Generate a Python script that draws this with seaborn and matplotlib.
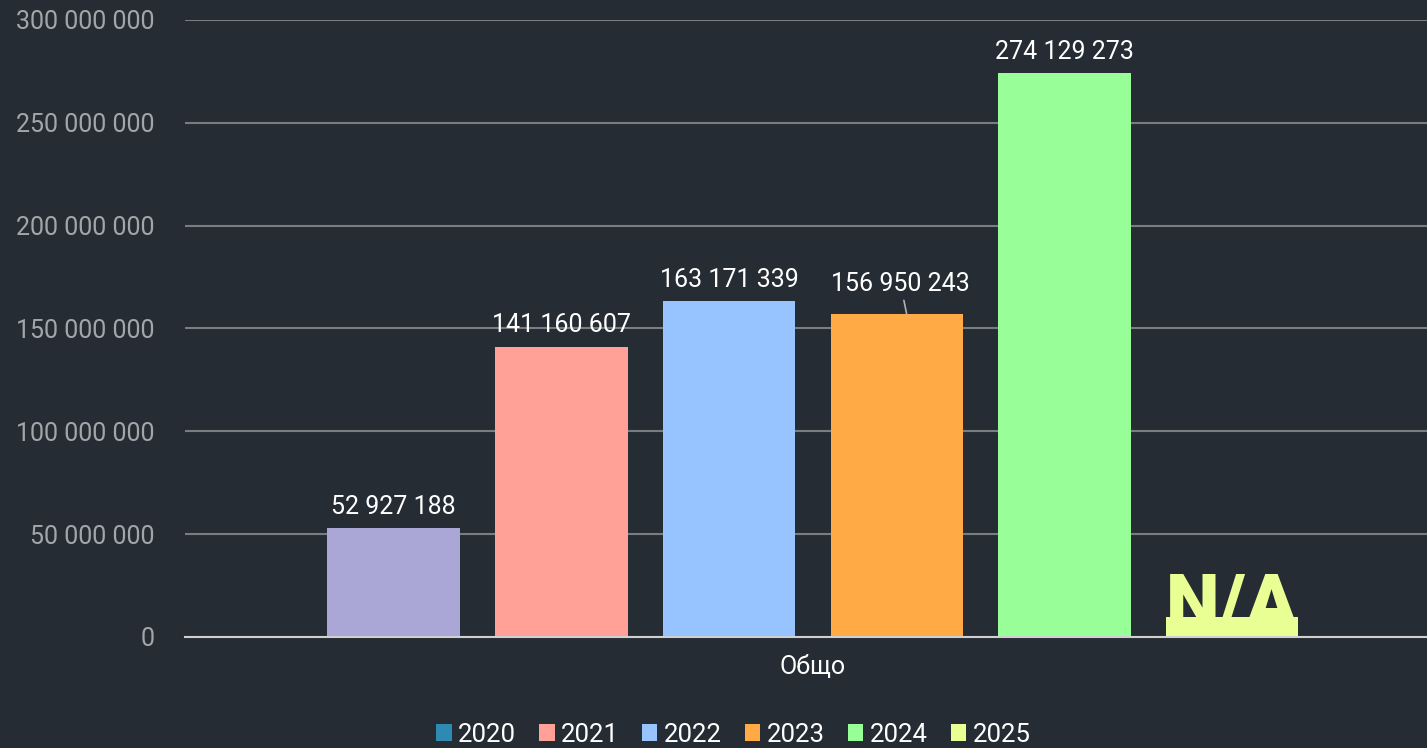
import matplotlib
matplotlib.use("Agg")
import matplotlib.pyplot as plt
import seaborn as sns
import pandas as pd
from matplotlib.patches import Patch

# ===================== DATA =====================
category = ["Общо"]
years    = ["2020", "2021", "2022", "2023", "2024", "2025"]
values   = [52927188, 141160607, 163171339, 156950243, 274129273, None]
colors   = ["#2e8ab3", "#ffa197", "#97c3ff", "#ffaa44", "#98ff98", "#e9ff94"]
bar_2020 = "#aaa6d6"          # the 2020 bar itself is drawn in purple
na_stub  = 9_700_000          # height of the "N/A" placeholder block

BG   = "#262c33"
GRID = "#7a7d80"

df = pd.DataFrame({
    "cat":   category * len(years),
    "year":  years,
    "value": [v if v is not None else na_stub for v in values],
})

sns.set_theme(style="dark")
plt.rcParams["font.family"] = ["Roboto", "DejaVu Sans"]

fig = plt.figure(figsize=(14.27, 7.48), dpi=100, facecolor=BG)
ax = fig.add_axes([0.1296, 0.1484, 0.8704, 0.8249])
ax.set_facecolor(BG)

sns.barplot(data=df, x="cat", y="value", hue="year", palette=colors,
            width=0.81, gap=0.21, saturation=1, legend=False,
            linewidth=0, edgecolor="none", ax=ax)

bars = [p for p in ax.patches]
bars[0].set_facecolor(bar_2020)

ax.set_ylim(0, 300_000_000)
ax.set_xlim(-0.5056, 0.4944)
ax.set_yticks(range(0, 300_000_001, 50_000_000))
ax.set_yticklabels([f"{v:,}".replace(",", " ") for v in range(0, 300_000_001, 50_000_000)])
ax.tick_params(axis="y", colors="#a3a6a9", labelsize=18, length=0, pad=22)
ax.tick_params(axis="x", colors="white", labelsize=18, length=0, pad=13)
ax.set_xlabel(""); ax.set_ylabel("")
ax.yaxis.grid(True, color=GRID, linewidth=1.5)
ax.set_axisbelow(True)
for s in ["top", "right", "left"]:
    ax.spines[s].set_visible(False)
ax.spines["bottom"].set_color("#cfd0d2")
ax.spines["bottom"].set_linewidth(1.5)

# value labels
for bar, v in zip(bars, values):
    cx = bar.get_x() + bar.get_width() / 2
    if v is None:
        ax.text(cx, 4_500_000, "N/A", ha="center", va="baseline", fontsize=55,
                fontweight="black", color=colors[-1], zorder=1)
        continue
    lbl = f"{v:,}".replace(",", " ")
    if lbl.startswith("156"):
        ax.annotate(lbl, xy=(cx + 0.008, v), xytext=(cx + 0.003, v + 9_000_000),
                    ha="center", va="bottom", color="white", fontsize=18,
                    arrowprops=dict(arrowstyle="-", color="#b0b0b0", lw=1.2,
                                    shrinkA=1, shrinkB=0))
    else:
        ax.text(cx, v + 4_500_000, lbl, ha="center", va="bottom",
                color="white", fontsize=18)

# legend
handles = [Patch(facecolor=c, edgecolor="none", label=y) for y, c in zip(years, colors)]
leg = fig.legend(handles=handles, loc="lower center", bbox_to_anchor=(0.514, -0.029),
                 ncol=6, frameon=False, fontsize=18.5, handlelength=0.6,
                 handleheight=0.6, handletextpad=0.25, columnspacing=0.9,
                 labelcolor="white")

fig.savefig("out.png", dpi=100, facecolor=BG)
